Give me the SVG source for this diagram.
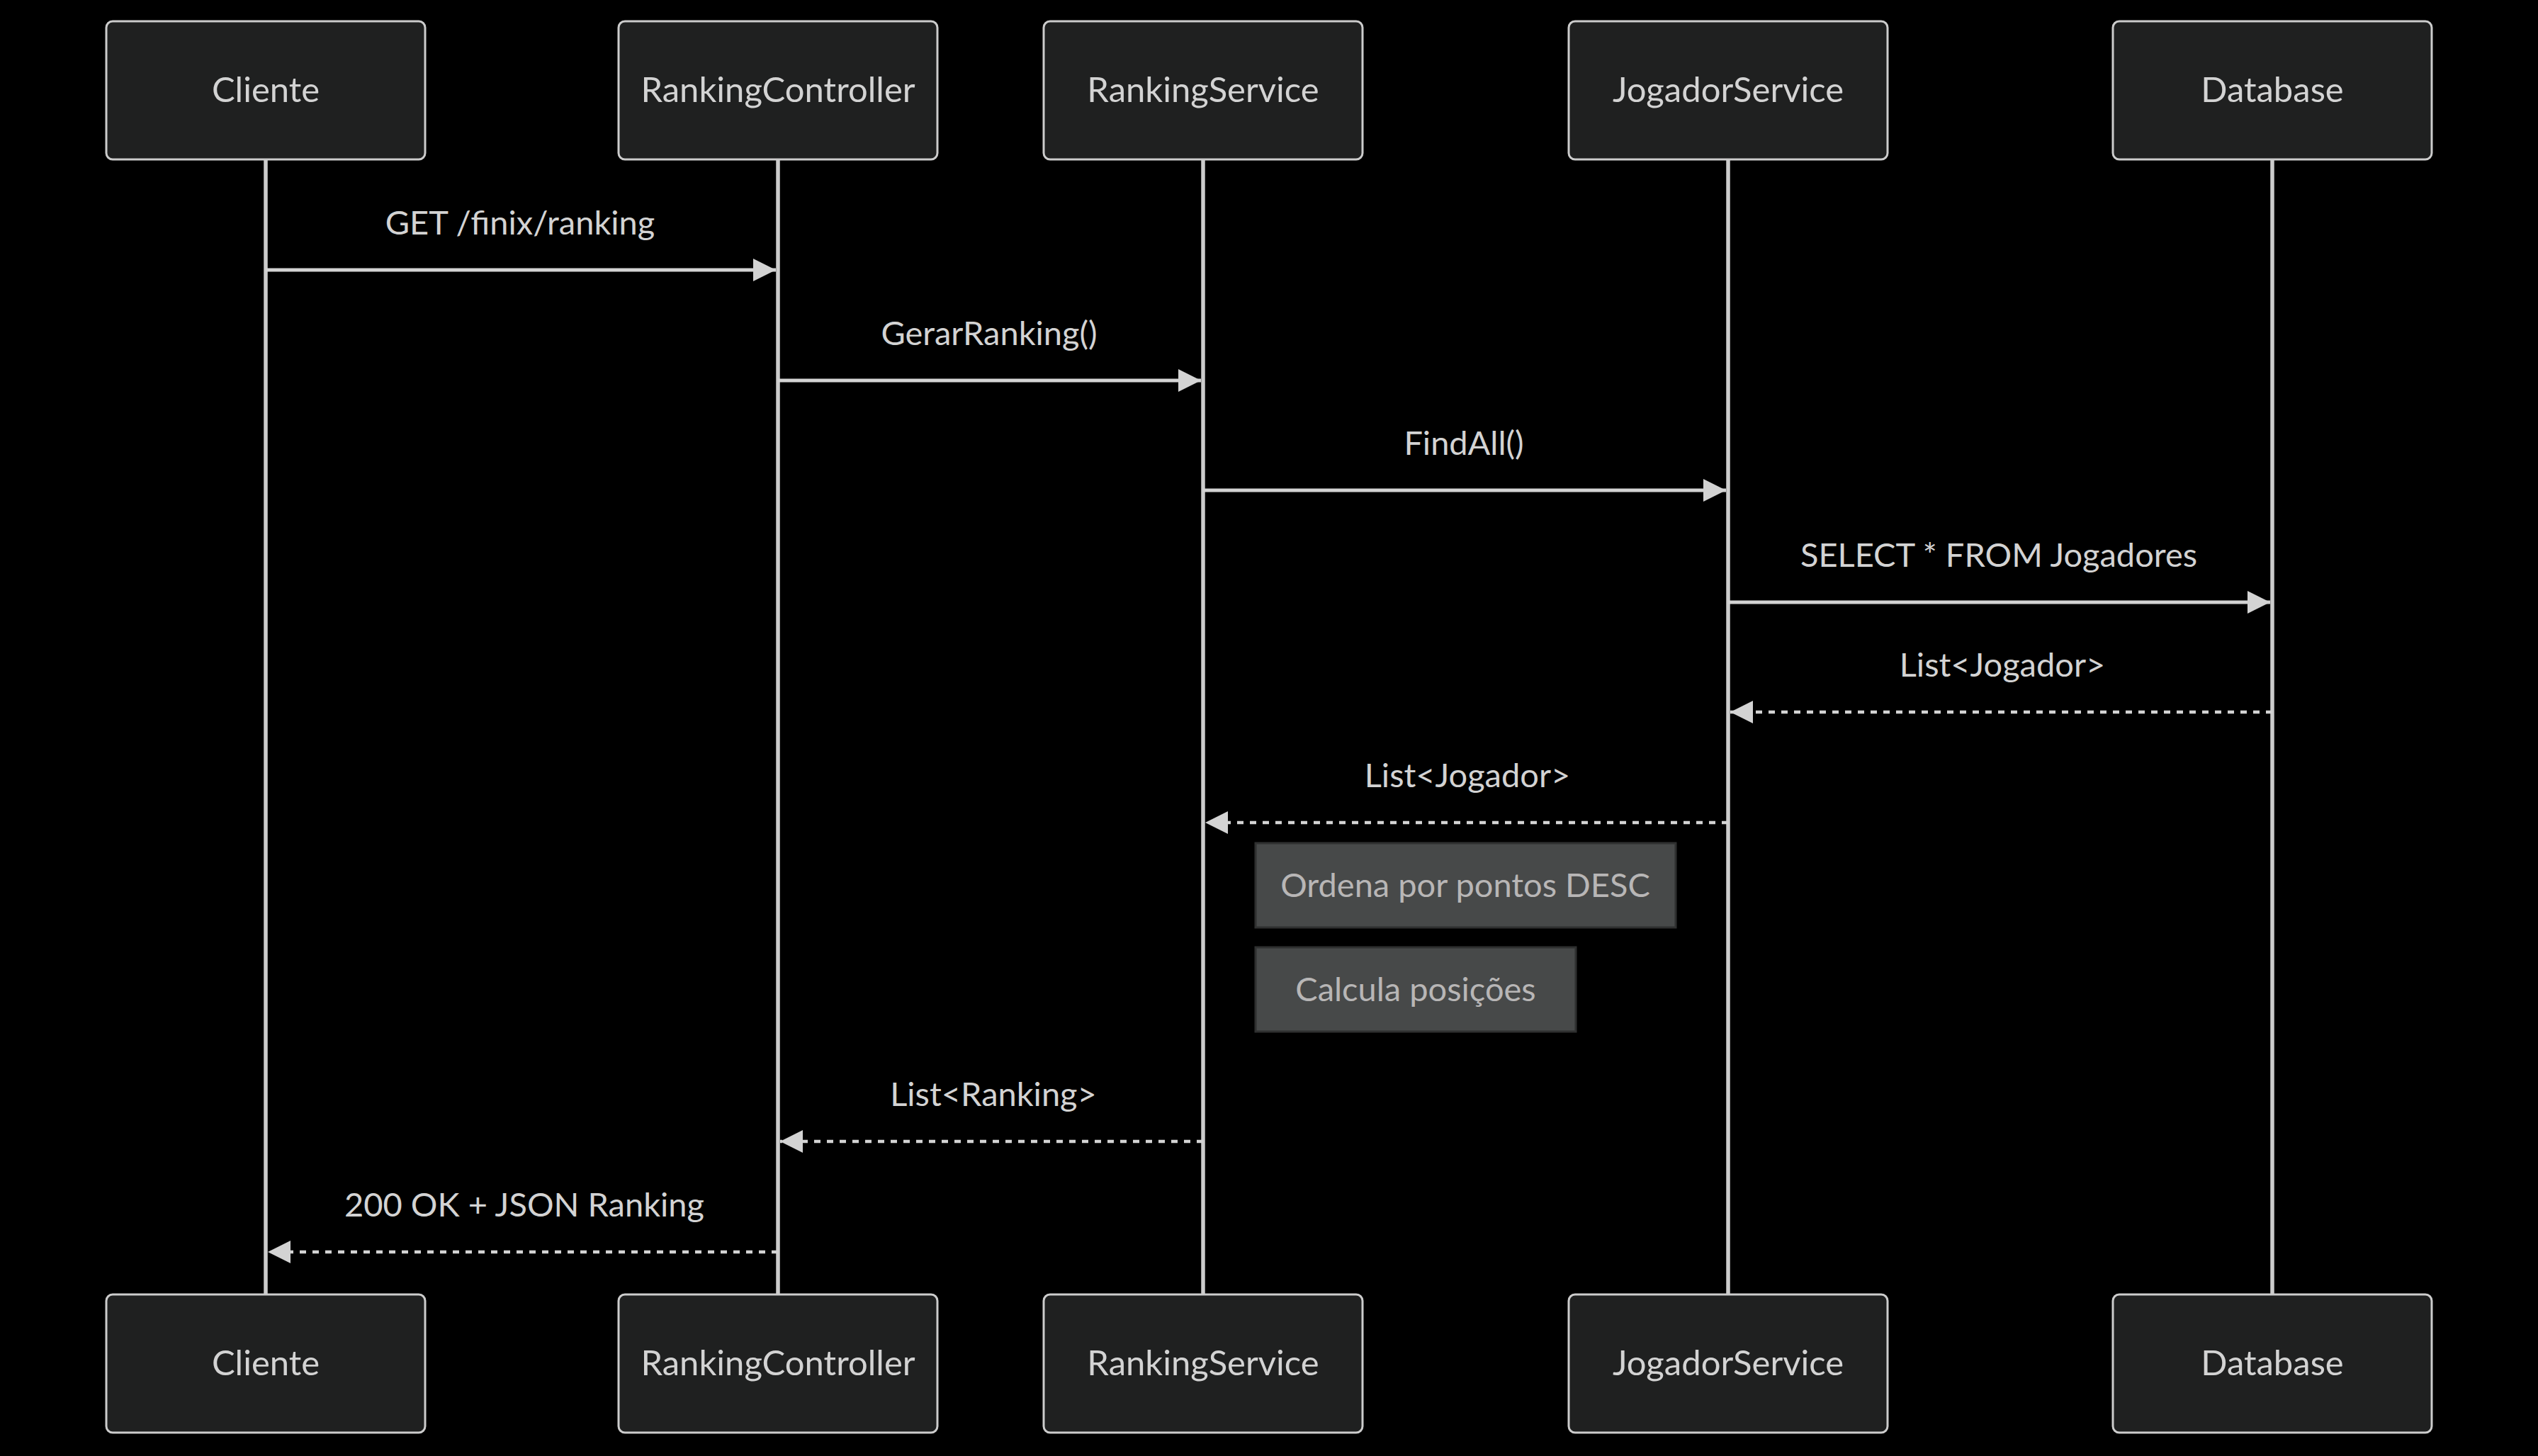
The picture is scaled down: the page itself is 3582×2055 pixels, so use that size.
<svg xmlns="http://www.w3.org/2000/svg" width="3582" height="2055" viewBox="0 0 3582 2055">
<style>
.actor rect{fill:#1f2020;stroke:#cccccc;stroke-width:3}
.actor text{fill:#d3d3d3;font-family:Lato,"Liberation Sans",sans-serif;font-size:49px;text-anchor:middle}
.life{stroke:#cccccc;stroke-width:5.5}
.msg{stroke:#d3d3d3;stroke-width:5;fill:none}
.dash{stroke-dasharray:9 9;stroke-width:4.5}
.lbl{fill:#d3d3d3;font-family:Lato,"Liberation Sans",sans-serif;font-size:47px;text-anchor:middle}
.note rect{fill:#474949;stroke:#2f3030;stroke-width:3}
.note text{fill:#b8b6b6;font-family:Lato,"Liberation Sans",sans-serif;font-size:47px;text-anchor:middle}
</style>
<defs>
<marker id="arr" markerUnits="userSpaceOnUse" markerWidth="34" markerHeight="34" refX="32" refY="16" orient="auto" viewBox="0 0 34 34">
<path d="M0,0 L32,16 L0,32 z" fill="#d3d3d3"/>
</marker>
</defs>
<rect x="0" y="0" width="3582" height="2055" fill="#000000"/>
<g id="lifelines">
<line class="life" x1="375" y1="225" x2="375" y2="1827"/>
<line class="life" x1="1098" y1="225" x2="1098" y2="1827"/>
<line class="life" x1="1698" y1="225" x2="1698" y2="1827"/>
<line class="life" x1="2439" y1="225" x2="2439" y2="1827"/>
<line class="life" x1="3207" y1="225" x2="3207" y2="1827"/>
</g>
<g id="actor-cliente-top" class="actor"><rect x="150" y="30" width="450" height="195" rx="9"/><text x="375" y="144">Cliente</text></g>
<g id="actor-rc-top" class="actor"><rect x="873" y="30" width="450" height="195" rx="9"/><text x="1098" y="144">RankingController</text></g>
<g id="actor-rs-top" class="actor"><rect x="1473" y="30" width="450" height="195" rx="9"/><text x="1698" y="144">RankingService</text></g>
<g id="actor-js-top" class="actor"><rect x="2214" y="30" width="450" height="195" rx="9"/><text x="2439" y="144">JogadorService</text></g>
<g id="actor-db-top" class="actor"><rect x="2982" y="30" width="450" height="195" rx="9"/><text x="3207" y="144">Database</text></g>
<g id="actor-cliente-bottom" class="actor"><rect x="150" y="1827" width="450" height="195" rx="9"/><text x="375" y="1941">Cliente</text></g>
<g id="actor-rc-bottom" class="actor"><rect x="873" y="1827" width="450" height="195" rx="9"/><text x="1098" y="1941">RankingController</text></g>
<g id="actor-rs-bottom" class="actor"><rect x="1473" y="1827" width="450" height="195" rx="9"/><text x="1698" y="1941">RankingService</text></g>
<g id="actor-js-bottom" class="actor"><rect x="2214" y="1827" width="450" height="195" rx="9"/><text x="2439" y="1941">JogadorService</text></g>
<g id="actor-db-bottom" class="actor"><rect x="2982" y="1827" width="450" height="195" rx="9"/><text x="3207" y="1941">Database</text></g>
<g id="connectors">
<line class="msg" x1="375" y1="381" x2="1095" y2="381" marker-end="url(#arr)"/>
<text class="lbl" x="734" y="331">GET /finix/ranking</text>
<line class="msg" x1="1098" y1="537" x2="1695" y2="537" marker-end="url(#arr)"/>
<text class="lbl" x="1396" y="487">GerarRanking()</text>
<line class="msg" x1="1698" y1="692" x2="2436" y2="692" marker-end="url(#arr)"/>
<text class="lbl" x="2066" y="642">FindAll()</text>
<line class="msg" x1="2439" y1="850" x2="3204" y2="850" marker-end="url(#arr)"/>
<text class="lbl" x="2821" y="800">SELECT * FROM Jogadores</text>
<line class="msg dash" x1="3207" y1="1005" x2="2442" y2="1005" marker-end="url(#arr)"/>
<text class="lbl" x="2826" y="955">List&lt;Jogador&gt;</text>
<line class="msg dash" x1="2439" y1="1161" x2="1701" y2="1161" marker-end="url(#arr)"/>
<text class="lbl" x="2071" y="1111">List&lt;Jogador&gt;</text>
<line class="msg dash" x1="1698" y1="1611" x2="1101" y2="1611" marker-end="url(#arr)"/>
<text class="lbl" x="1402" y="1561">List&lt;Ranking&gt;</text>
<line class="msg dash" x1="1098" y1="1767" x2="378" y2="1767" marker-end="url(#arr)"/>
<text class="lbl" x="740" y="1717">200 OK + JSON Ranking</text>
</g>
<g id="note-ordena" class="note"><rect x="1772" y="1190" width="593" height="119"/><text x="2068" y="1266">Ordena por pontos DESC</text></g>
<g id="note-calcula" class="note"><rect x="1772" y="1337" width="452" height="119"/><text x="1998" y="1413">Calcula posições</text></g>
</svg>
